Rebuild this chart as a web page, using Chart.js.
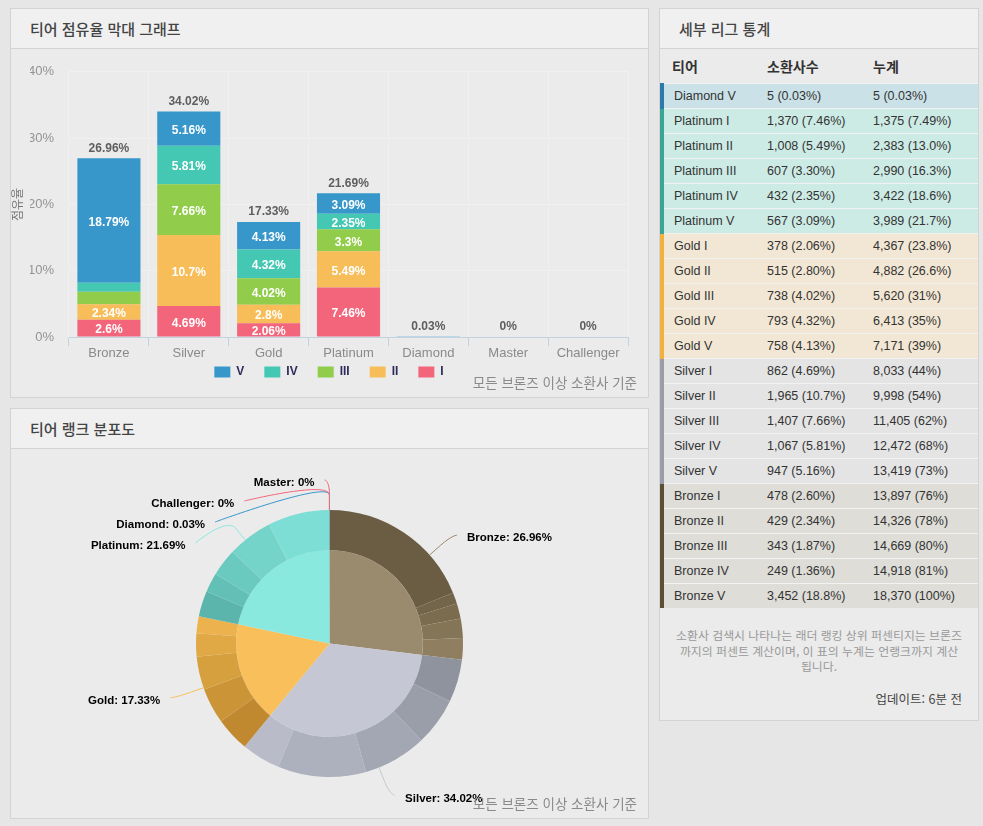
<!DOCTYPE html>
<html lang="ko">
<head>
<meta charset="utf-8">
<title>티어 점유율</title>
<script src="https://cdn.jsdelivr.net/npm/chart.js@4.4.1/dist/chart.umd.min.js"></script>
<style>
  html, body { margin: 0; padding: 0; }
  body {
    width: 983px; height: 826px; overflow: hidden; position: relative;
    background: #e6e6e6;
    font-family: "Liberation Sans", "Noto Sans CJK KR", sans-serif;
    color: #333;
  }
  .panel {
    position: absolute; box-sizing: border-box;
    background: #ebebeb; border: 1px solid #d3d3d3;
  }
  .panel .head {
    height: 39px; line-height: 39px;
    background: #f0f0f0; border-bottom: 1px solid #d3d3d3;
    padding-left: 19px;
    font-family: "Noto Sans CJK KR", sans-serif; font-size: 15px; font-weight: 500; color: #444;
  }
  .chart-box { position: absolute; }
  .foot {
    position: absolute; right: 346px;
    font-family: "Noto Sans CJK KR", sans-serif; font-size: 13.5px; color: #8a8a8a;
    line-height: 16px; white-space: nowrap;
  }
  table { border-collapse: collapse; width: 318px; }
  th {
    height: 34px; text-align: left; font-family: "Noto Sans CJK KR", sans-serif;
    font-size: 14px; font-weight: bold; color: #333; padding: 0;
  }
  td {
    height: 24px; padding: 0; font-size: 12.5px; color: #333;
    border-top: 1px solid #f2f2f2;
  }
  td.name { padding-left: 10px; border-left: 4px solid transparent; width: 93px; }
  td.cnt { width: 106px; }
  tr.diamond td { background: #cbe1e8; }
  tr.diamond td.name { border-left-color: #2c7aaa; }
  tr.platinum td { background: #cdebe5; }
  tr.platinum td.name { border-left-color: #3aa595; }
  tr.gold td { background: #f2e7d4; }
  tr.gold td.name { border-left-color: #f1b13e; }
  tr.silver td { background: #e4e4e4; }
  tr.silver td.name { border-left-color: #9a9cab; }
  tr.bronze td { background: #deddd7; }
  tr.bronze td.name { border-left-color: #5d4f36; }
  .memo {
    text-align: center; font-family: "Noto Sans CJK KR", sans-serif;
    font-size: 11.9px; line-height: 15.5px; color: #999; margin-top: 19px; white-space: nowrap;
  }
  .update {
    text-align: right; padding-right: 16px; margin-top: 15px;
    font-family: "Noto Sans CJK KR", sans-serif; font-size: 12.5px; color: #444;
  }
</style>
</head>
<body>

<div class="panel" style="left:10px; top:8px; width:639px; height:390px;">
  <div class="head">티어 점유율 막대 그래프</div>
</div>
<div class="chart-box" style="left:11px; top:49px; width:636px; height:356px;">
  <canvas id="barChart" width="636" height="356"></canvas>
</div>
<div class="foot" style="top:374px;">모든 브론즈 이상 소환사 기준</div>

<div class="panel" style="left:10px; top:408px; width:639px; height:411px;">
  <div class="head">티어 랭크 분포도</div>
</div>
<div class="chart-box" style="left:11px; top:449px; width:636px; height:368px;">
  <canvas id="pieChart" width="636" height="368"></canvas>
</div>
<div class="foot" style="top:795px;">모든 브론즈 이상 소환사 기준</div>

<div class="panel" style="left:659px; top:8px; width:320px; height:713px;">
  <div class="head">세부 리그 통계</div>
  <table>
    <thead>
      <tr><th style="padding-left:10px; width:87px;">티어</th><th style="width:106px;">소환사수</th><th>누계</th></tr>
    </thead>
    <tbody id="leagueRows"></tbody>
  </table>
  <div class="memo">소환사 검색시 나타나는 래더 랭킹 상위 퍼센티지는 브론즈<br>까지의 퍼센트 계산이며, 이 표의 누계는 언랭크까지 계산<br>됩니다.</div>
  <div class="update">업데이트: 6분 전</div>
</div>

<script>
// ===============================
// Data
// ===============================
const tiers = ["Bronze", "Silver", "Gold", "Platinum", "Diamond", "Master", "Challenger"];
const divisions = ["I", "II", "III", "IV", "V"];

// share (%) of each division, per tier
const divI   = [2.6, 4.69, 2.06, 7.46, 0, 0, 0];
const divII  = [2.34, 10.7, 2.8, 5.49, 0, 0, 0];
const divIII = [1.87, 7.66, 4.02, 3.3, 0, 0, 0];
const divIV  = [1.36, 5.81, 4.32, 2.35, 0, 0, 0];
const divV   = [18.79, 5.16, 4.13, 3.09, 0.03, 0, 0];
const tierTotals = [26.96, 34.02, 17.33, 21.69, 0.03, 0, 0];
const yTickValues = [0, 10, 20, 30, 40];

// detail table
const leagueNames = [
  "Diamond V", "Platinum I", "Platinum II", "Platinum III", "Platinum IV", "Platinum V",
  "Gold I", "Gold II", "Gold III", "Gold IV", "Gold V",
  "Silver I", "Silver II", "Silver III", "Silver IV", "Silver V",
  "Bronze I", "Bronze II", "Bronze III", "Bronze IV", "Bronze V"
];
const leagueCounts = [
  "5 (0.03%)", "1,370 (7.46%)", "1,008 (5.49%)", "607 (3.30%)", "432 (2.35%)", "567 (3.09%)",
  "378 (2.06%)", "515 (2.80%)", "738 (4.02%)", "793 (4.32%)", "758 (4.13%)",
  "862 (4.69%)", "1,965 (10.7%)", "1,407 (7.66%)", "1,067 (5.81%)", "947 (5.16%)",
  "478 (2.60%)", "429 (2.34%)", "343 (1.87%)", "249 (1.36%)", "3,452 (18.8%)"
];
const leagueCumulative = [
  "5 (0.03%)", "1,375 (7.49%)", "2,383 (13.0%)", "2,990 (16.3%)", "3,422 (18.6%)", "3,989 (21.7%)",
  "4,367 (23.8%)", "4,882 (26.6%)", "5,620 (31%)", "6,413 (35%)", "7,171 (39%)",
  "8,033 (44%)", "9,998 (54%)", "11,405 (62%)", "12,472 (68%)", "13,419 (73%)",
  "13,897 (76%)", "14,326 (78%)", "14,669 (80%)", "14,918 (81%)", "18,370 (100%)"
];

// ===============================
// Colours
// ===============================
const divisionColors = ["#f2657b", "#f7bd58", "#91cd4b", "#44c7b3", "#3797ca"]; // I..V
const tierColors = ["#9b8b6e", "#c5c8d4", "#f8bf5a", "#8ae9de", "#3797ca", "#f2657b", "#f2657b"];
// outer ring shades, V -> I
const tierShades = [
  ["#6b5d43", "#736549", "#7b6c50", "#847557", "#8f7f60"],
  ["#8f939e", "#9a9ea9", "#a3a7b3", "#adb1bd", "#b9bcc8"],
  ["#c0892f", "#cb9436", "#d6a03e", "#e0a946", "#ebb24e"],
  ["#5bb5ac", "#63c0b6", "#6bcac0", "#74d4ca", "#7cded4"],
  ["#3797ca", "#3797ca", "#3797ca", "#3797ca", "#3797ca"],
  ["#f2657b", "#f2657b", "#f2657b", "#f2657b", "#f2657b"],
  ["#f2657b", "#f2657b", "#f2657b", "#f2657b", "#f2657b"]
];

Chart.defaults.font.family = "'Liberation Sans', 'Noto Sans CJK KR', sans-serif";
Chart.defaults.animation = false;

// ===============================
// Stacked bar chart
// ===============================
const divData = [divI, divII, divIII, divIV, divV];

const barLabels = {
  id: "barLabels",
  afterLayout(chart) {
    // pull the legend up close under the axis labels
    const lg = chart.legend;
    const h = lg.height;
    lg.top = chart.chartArea.bottom + 9;
    lg.bottom = lg.top + h;
  },
  afterDatasetsDraw(chart) {
    const ctx = chart.ctx;
    const yScale = chart.scales.y;
    ctx.save();
    ctx.textAlign = "center";
    ctx.font = "bold 12px 'Liberation Sans'";
    ctx.textBaseline = "middle";
    ctx.fillStyle = "#ffffff";
    chart.data.datasets.forEach((ds, di) => {
      chart.getDatasetMeta(di).data.forEach((bar, i) => {
        const v = ds.data[i];
        if (v < 2) return;
        ctx.fillText(v + "%", bar.x, (bar.y + bar.base) / 2 + 2);
      });
    });
    const meta = chart.getDatasetMeta(0);
    ctx.fillStyle = "#5e5e5e";
    ctx.textBaseline = "bottom";
    tierTotals.forEach((t, i) => {
      ctx.fillText(t + "%", meta.data[i].x, yScale.getPixelForValue(t) - 4);
    });
    // y axis title
    ctx.translate(yScale.left - 13, (chart.chartArea.top + chart.chartArea.bottom) / 2);
    ctx.rotate(-Math.PI / 2);
    ctx.font = "12px 'Noto Sans CJK KR'";
    ctx.fillStyle = "#777";
    ctx.textBaseline = "middle";
    ctx.fillText("점유율", 0, 0);
    ctx.restore();
  }
};

new Chart(document.getElementById("barChart"), {
  type: "bar",
  data: {
    labels: tiers,
    datasets: divisions.map((d, k) => ({
      label: d,
      data: divData[k],
      backgroundColor: divisionColors[k],
      borderWidth: 0,
      barPercentage: 0.79,
      categoryPercentage: 1
    }))
  },
  options: {
    responsive: false,
    layout: { padding: { left: 19, right: 19, top: 21, bottom: 0 } },
    plugins: {
      legend: {
        position: "bottom",
        reverse: true,
        labels: {
          boxWidth: 16,
          boxHeight: 11,
          padding: 20,
          color: "#2e2a5c",
          font: { size: 12, weight: "bold" }
        }
      },
      tooltip: { enabled: false }
    },
    scales: {
      x: {
        stacked: true,
        afterFit: (scale) => { scale.height = 26; },
        grid: { color: "#f0f0f0", tickColor: "#c3d2e0", tickLength: 9, offset: true },
        border: { color: "#c3d2e0" },
        ticks: { color: "#8a8a8a", font: { size: 13 }, padding: 0 }
      },
      y: {
        stacked: true,
        min: 0,
        max: 40,
        afterFit: (scale) => { scale.width = 39; },
        afterBuildTicks: (scale) => { scale.ticks = yTickValues.map(v => ({ value: v })); },
        grid: { color: "#f0f0f0", drawTicks: false },
        border: { display: false },
        ticks: { color: "#939393", font: { size: 13 }, padding: 15, callback: (v) => v + "%" }
      }
    }
  },
  plugins: [barLabels]
});

// ===============================
// Two-level pie chart
// ===============================
const outerValues = [];
const outerColors = [];
tiers.forEach((t, i) => {
  for (let k = divisions.length - 1; k >= 0; k--) {
    outerValues.push(divData[k][i]);
    outerColors.push(tierShades[i][divisions.length - 1 - k]);
  }
});

const pieLabels = {
  id: "pieLabels",
  afterDatasetsDraw(chart) {
    const ctx = chart.ctx;
    const inner = chart.getDatasetMeta(1).data;
    const r = chart.getDatasetMeta(0).data[0].outerRadius;
    const dist = 30;
    const gap = 21;
    const items = inner.map((arc, i) => {
      const mid = (arc.startAngle + arc.endAngle) / 2;
      return {
        i, mid, cx: arc.x, cy: arc.y,
        left: mid > Math.PI / 2,
        y: arc.y + Math.sin(mid) * (r + dist)
      };
    });
    [true, false].forEach(side => {
      const group = items.filter(it => it.left === side).sort((a, b) => a.y - b.y);
      for (let k = 1; k < group.length; k++) {
        group[k].y = Math.max(group[k].y, group[k - 1].y + gap);
      }
    });
    ctx.save();
    ctx.font = "bold 11.5px 'Liberation Sans'";
    ctx.textBaseline = "middle";
    ctx.lineWidth = 1;
    items.forEach(it => {
      const dy = it.y - it.cy;
      const span = Math.sqrt(Math.max((r + dist) * (r + dist) - dy * dy, 0));
      const sgn = it.left ? -1 : 1;
      const x = it.cx + sgn * span;
      const tx = it.cx + Math.cos(it.mid) * r, ty = it.cy + Math.sin(it.mid) * r;
      const bx = it.cx + Math.cos(it.mid) * (r + dist / 2), by = it.cy + Math.sin(it.mid) * (r + dist / 2);
      const lx = x + sgn * 5;
      ctx.strokeStyle = tierColors[it.i];
      ctx.beginPath();
      ctx.moveTo(lx, it.y);
      ctx.bezierCurveTo(lx, it.y, 2 * bx - tx, 2 * by - ty, bx, by);
      ctx.lineTo(tx, ty);
      ctx.stroke();
      ctx.fillStyle = "#000";
      ctx.textAlign = it.left ? "right" : "left";
      ctx.fillText(tiers[it.i] + ": " + tierTotals[it.i] + "%", x + sgn * 15, it.y + 3);
    });
    ctx.restore();
  }
};

new Chart(document.getElementById("pieChart"), {
  type: "doughnut",
  data: {
    labels: tiers,
    datasets: [
      { data: outerValues, backgroundColor: outerColors, borderWidth: 0, weight: 40 },
      { data: tierTotals, backgroundColor: tierColors, borderWidth: 0, weight: 93 }
    ]
  },
  options: {
    responsive: false,
    cutout: 0,
    layout: { padding: { left: 185, right: 184, top: 61, bottom: 40 } },
    plugins: { legend: { display: false }, tooltip: { enabled: false } }
  },
  plugins: [pieLabels]
});

// ===============================
// League table
// ===============================
const rows = document.getElementById("leagueRows");
leagueNames.forEach((name, i) => {
  const tr = document.createElement("tr");
  tr.className = name.split(" ")[0].toLowerCase();
  tr.innerHTML = `<td class="name">${name}</td><td class="cnt">${leagueCounts[i]}</td><td>${leagueCumulative[i]}</td>`;
  rows.appendChild(tr);
});
</script>
</body>
</html>
